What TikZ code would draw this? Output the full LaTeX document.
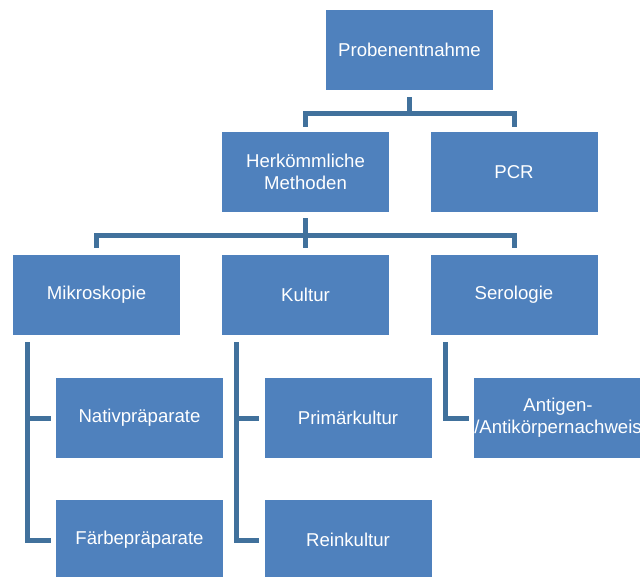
\documentclass[tikz,border=0pt]{standalone}
\usepackage{fontspec}
\setmainfont{Liberation Sans}
\definecolor{boxblue}{HTML}{4F81BD}
\definecolor{linkblue}{HTML}{41719C}
\begin{document}
\begin{tikzpicture}[x=1pt,y=-1pt,
	box/.style={fill=boxblue,text=white,minimum width=167pt,minimum height=80pt,inner sep=0pt,align=center,font=\fontsize{18.6}{22}\selectfont},
	link/.style={draw=linkblue,line width=5pt}]
	\useasboundingbox (0,0) rectangle (640,576);
	\clip (0,0) rectangle (640,576);
	\node[box] (probe) at (409.5,50) {Probenentnahme};
	\node[box] (herk) at (305.5,172) {Herkömmliche\\Methoden};
	\node[box] (pcr) at (514,172) {PCR};
	\node[box] (mikro) at (96.5,295) {Mikroskopie};
	\node[box] (kultur) at (305.5,295) {Kultur};
	\node[box] (sero) at (514,295) {Serologie};
	\node[box] (nativ) at (139.5,418) {Nativpräparate};
	\node[box] (faerbe) at (139.5,540) {Färbepräparate};
	\node[box] (primaer) at (348,418) {Primärkultur};
	\node[box] (rein) at (348,540) {Reinkultur};
	\node[box] (antigen) at (558,418) {Antigen-\\/Antikörpernachweis};
	\draw[link,shorten <=7pt,shorten >=5pt] (probe.south) -- ++(0,23) -| (herk.north);
	\draw[link,shorten <=7pt,shorten >=5pt] (probe.south) -- ++(0,23) -| (pcr.north);
	\draw[link,shorten <=6pt,shorten >=7pt] (herk.south) -- ++(0,23) -| (mikro.north);
	\draw[link,shorten <=6pt,shorten >=7pt] (herk.south) -- (kultur.north);
	\draw[link,shorten <=6pt,shorten >=7pt] (herk.south) -- ++(0,23) -| (sero.north);
	\draw[link,shorten <=7pt,shorten >=5pt] ([xshift=15pt]mikro.south west) |- (nativ.west);
	\draw[link,shorten <=7pt,shorten >=5pt] ([xshift=15pt]mikro.south west) |- (faerbe.west);
	\draw[link,shorten <=7pt,shorten >=5pt] ([xshift=15pt]kultur.south west) |- (primaer.west);
	\draw[link,shorten <=7pt,shorten >=5pt] ([xshift=15pt]kultur.south west) |- (rein.west);
	\draw[link,shorten <=7pt,shorten >=5pt] ([xshift=15pt]sero.south west) |- (antigen.west);
\end{tikzpicture}
\end{document}
